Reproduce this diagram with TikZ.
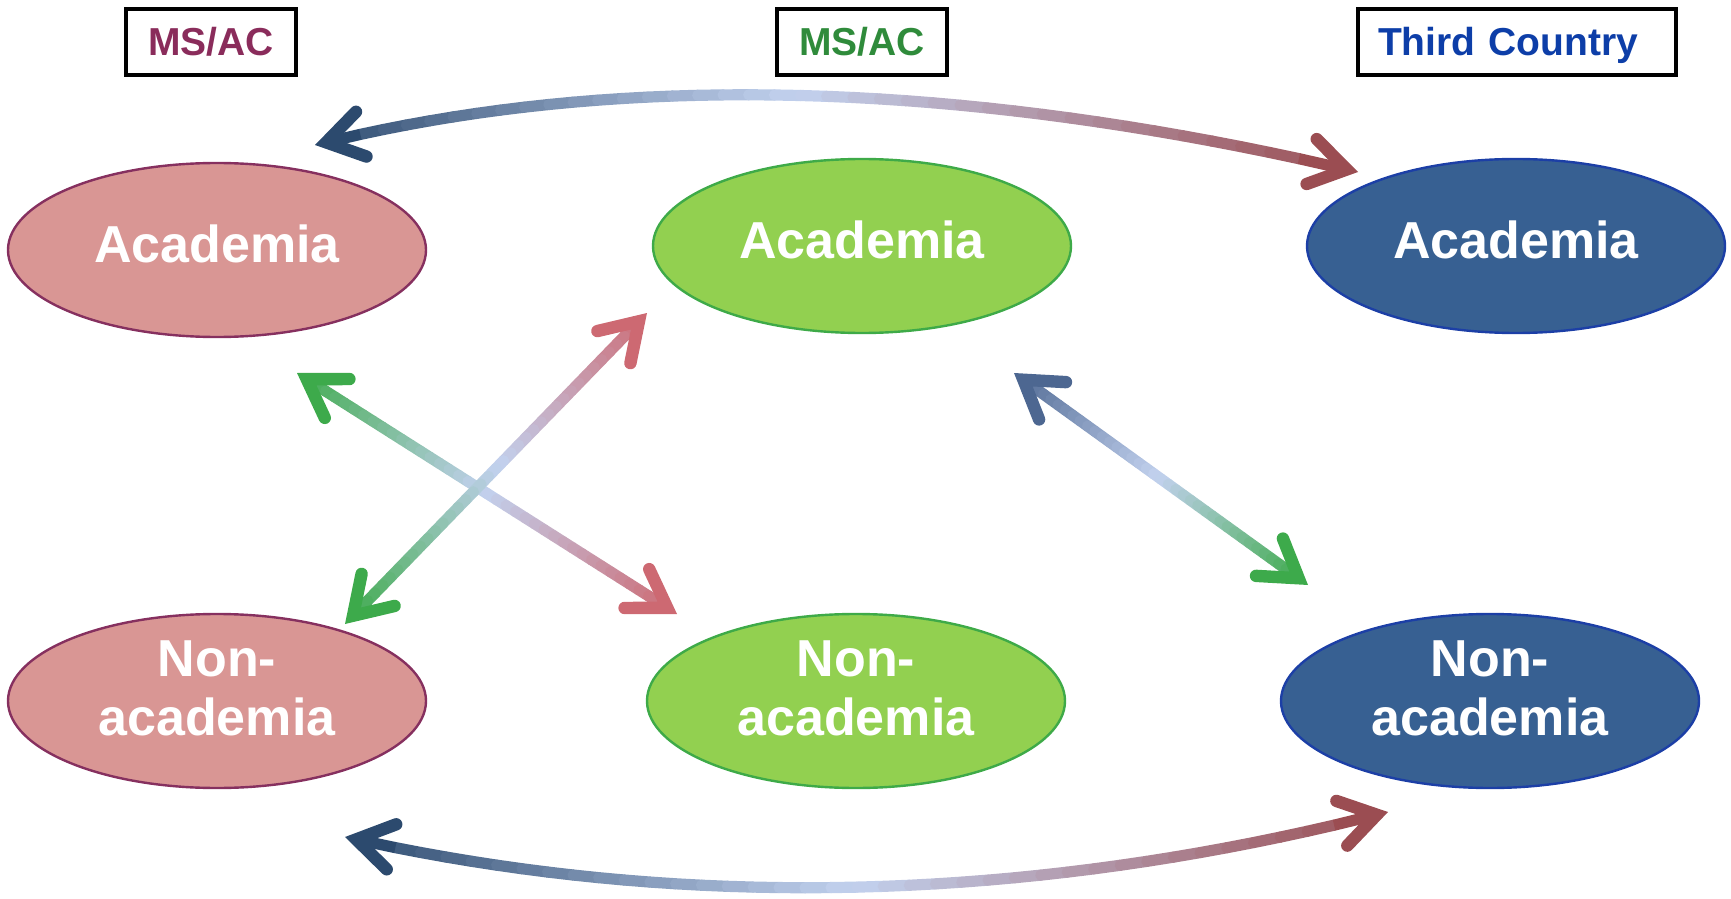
\documentclass[tikz,border=0pt]{standalone}
\usepackage{fontspec}
\setmainfont{Liberation Sans}
\usepackage{tikz}
\usetikzlibrary{shapes.geometric}
\usetikzlibrary{arrows.meta}

\definecolor{pinkfill}{HTML}{D99694}
\definecolor{pinkline}{HTML}{86305F}
\definecolor{greenfill}{HTML}{92D050}
\definecolor{greenline}{HTML}{3EAA48}
\definecolor{bluefill}{HTML}{376092}
\definecolor{blueline}{HTML}{1C3FA6}
\definecolor{msleft}{HTML}{8A2C5B}
\definecolor{msmid}{HTML}{2F8B3B}
\definecolor{third}{HTML}{0D3EA8}
\definecolor{arcnavy}{HTML}{2C4A6E}
\definecolor{arcwine}{HTML}{9B4D52}
\definecolor{pale}{HTML}{C2D1EE}
\definecolor{arrgreen}{HTML}{3DAA4B}
\definecolor{arrpink}{HTML}{CD6972}
\definecolor{slate}{HTML}{4D6791}

\tikzset{
  box/.style={draw=black, line width=2pt, minimum height=33pt, inner sep=0pt,
    text height=14pt, text depth=0pt, font=\fontsize{19.5}{22}\selectfont\bfseries},
  ell/.style={ellipse, minimum width=209pt, minimum height=87pt, inner sep=0pt,
    line width=1.2pt, text=white, align=center,
    font=\fontsize{26}{29.5}\selectfont\bfseries},
  shaft/.style={line width=5.6pt, line cap=round},
  head/.style={line width=5.6pt,
    -{Straight Barb[length=18pt, width=23pt, line width=6.2pt, line cap=round, line join=miter]}}
}

% raise the two-line labels a little
\newcommand{\nalift}{\rule[-12.5pt]{0pt}{0pt}}

% #1 path, #2 start colour, #3 end colour, #4 name
\newcommand{\gradarrow}[4]{%
  \foreach \n in {0,...,40}
    \path #1 coordinate[pos=\n/40] (#4-\n);
  \foreach \i in {2,...,37}{
    \pgfmathtruncatemacro\j{\i+1}
    \ifnum\i<20
      \pgfmathtruncatemacro\p{97.5-5*\i}\def\segcol{#2}
    \else
      \pgfmathtruncatemacro\p{5*\i-97.5}\def\segcol{#3}
    \fi
    \draw[shaft, draw=\segcol!\p!pale] (#4-\i) -- (#4-\j);
  }
  \draw[head, draw=#2] (#4-2) -- (#4-0);
  \draw[head, draw=#3] (#4-38) -- (#4-40);
}

\begin{document}
\begin{tikzpicture}[x=0.5pt, y=-0.5pt]
            \useasboundingbox (0,0) rectangle (1731,899);

            % The boxes
            \node[box, text=msleft, minimum width=85pt] (msacL) at (211,42) {MS/AC};
            \node[box, text=msmid, minimum width=85pt] (msacM) at (862,42) {MS/AC};
            \node[box, text=third, text width=139pt, inner xsep=10pt, align=left] (third) at (1517,42) {Third Country};

            % The ellipses
            \node[ell, fill=pinkfill, draw=pinkline, text depth=6pt] (msA) at (217,250) {Academia};
            \node[ell, fill=greenfill, draw=greenline, text depth=6pt] (acA) at (862,246) {Academia};
            \node[ell, fill=bluefill, draw=blueline, text depth=6pt] (tcA) at (1516,246) {Academia};
            \node[ell, fill=pinkfill, draw=pinkline] (msN) at (217,701) {Non-\\academia\nalift};
            \node[ell, fill=greenfill, draw=greenline] (acN) at (856,701) {Non-\\academia\nalift};
            \node[ell, fill=bluefill, draw=blueline] (tcN) at (1490,701) {Non-\\academia\nalift};

            % The arrow ends
            \coordinate (topL) at (315,145);
            \coordinate (topR) at (1358,172);
            \coordinate (botL) at (345,837);
            \coordinate (botR) at (1388,812);
            \coordinate (crossAs) at (297,373);
            \coordinate (crossAe) at (677,614);
            \coordinate (crossBs) at (647,313);
            \coordinate (crossBe) at (345,624);
            \coordinate (diagS) at (1014,373);
            \coordinate (diagE) at (1308,585);

            % The arrows
            \gradarrow{(topL) .. controls (615,70) and (962,79) .. (topR)}{arcnavy}{arcwine}{top}
            \gradarrow{(botL) .. controls (680,912) and (1028,904) .. (botR)}{arcnavy}{arcwine}{bot}
            \gradarrow{(crossAs) -- (crossAe)}{arrgreen}{arrpink}{crA}
            \gradarrow{(crossBs) -- (crossBe)}{arrpink}{arrgreen}{crB}
            \gradarrow{(diagS) -- (diagE)}{slate}{arrgreen}{dg}
        \end{tikzpicture}
\end{document}
